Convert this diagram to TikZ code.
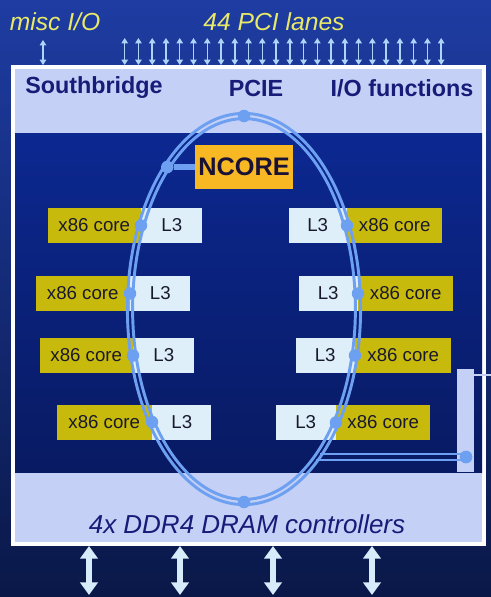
\documentclass[tikz,border=0pt]{standalone}
\usepackage{fontspec}
\setmainfont{Liberation Sans}
\usetikzlibrary{arrows.meta}
\definecolor{bgtop}{RGB}{30,60,162}
\definecolor{bgbot}{RGB}{10,24,72}
\definecolor{darktop}{RGB}{12,40,145}
\definecolor{darkbot}{RGB}{8,26,98}
\definecolor{lav}{RGB}{196,208,245}
\definecolor{navytext}{RGB}{22,28,120}
\definecolor{yelltext}{RGB}{232,232,105}
\definecolor{coreyel}{RGB}{200,186,12}
\definecolor{lthree}{RGB}{222,239,250}
\definecolor{ncorec}{RGB}{248,184,36}
\definecolor{ringc}{RGB}{110,160,242}
\definecolor{arrowc}{RGB}{175,212,248}
\definecolor{bigarrow}{RGB}{215,236,250}
\definecolor{boxtext}{RGB}{25,25,45}
\tikzset{
  corebox/.style={fill=coreyel, minimum height=35*0.75pt, inner sep=0pt, text=boxtext, font=\fontsize{14}{16}\selectfont},
  ltbox/.style={fill=lthree, minimum height=35*0.75pt, inner sep=0pt, text=boxtext, font=\fontsize{14}{16}\selectfont},
  dotnode/.style={circle, fill=ringc, inner sep=0pt, minimum size=12.5*0.75pt},
  ringline/.style={draw=ringc, line width=2.2pt},
  linkline/.style={draw=ringc, line width=4pt},
  pciarrow/.style={draw=arrowc, line width=1.1pt, {Triangle[width=4.8pt,length=4pt]}-{Triangle[width=4.8pt,length=4pt]}},
  memarrow/.style={draw=bigarrow, line width=4.5pt, {Triangle[width=13pt,length=9.5pt]}-{Triangle[width=13pt,length=9.5pt]}},
  bandtext/.style={text=navytext, font=\fontsize{17.5}{20}\selectfont\bfseries},
  toplabel/.style={text=yelltext, font=\fontsize{18.5}{21}\selectfont\itshape}
}
\begin{document}
\begin{tikzpicture}[x=0.75pt,y=-0.75pt]
\useasboundingbox (0,0) rectangle (491,597);
% background
\shade[top color=bgtop, bottom color=bgbot] (0,0) rectangle (491,597);
% chip outline
\fill[white] (11,65) rectangle (486,546);
\fill[lav] (15,69) rectangle (482,542);
\shade[top color=darktop, bottom color=darkbot] (15,133) rectangle (482,472);
% top labels
\node[toplabel] (misc) at (55,22) {misc I/O};
\node[toplabel] (pci) at (274,22) {44 PCI lanes};
% band labels
\node[bandtext] (sb) at (94,88) {Southbridge};
\node[bandtext] (pcie) at (256,88) {PCIE};
\node[bandtext] (iof) at (402,88) {I/O functions};
\node[text=navytext, font=\fontsize{19.5}{22}\selectfont\itshape] (ddr) at (247,524) {4x DDR4 DRAM controllers};
% junction coordinates on the ring
\coordinate (jL1) at (141,225.5);
\coordinate (jL2) at (130,293.5);
\coordinate (jL3) at (133,355.5);
\coordinate (jL4) at (152,422);
\coordinate (jR1) at (347,225.5);
\coordinate (jR2) at (358,293.5);
\coordinate (jR3) at (355,355.5);
\coordinate (jR4) at (336,422.5);
% left cores
\node[corebox, anchor=east, minimum width=93*0.75pt] (cL1) at (jL1) {x86 core};
\node[ltbox, anchor=west, minimum width=61*0.75pt] (lL1) at (jL1) {L3};
\node[corebox, anchor=east, minimum width=94*0.75pt] (cL2) at (jL2) {x86 core};
\node[ltbox, anchor=west, minimum width=60*0.75pt] (lL2) at (jL2) {L3};
\node[corebox, anchor=east, minimum width=93*0.75pt] (cL3) at (jL3) {x86 core};
\node[ltbox, anchor=west, minimum width=61*0.75pt] (lL3) at (jL3) {L3};
\node[corebox, anchor=east, minimum width=95*0.75pt] (cL4) at (jL4) {x86 core};
\node[ltbox, anchor=west, minimum width=59*0.75pt] (lL4) at (jL4) {L3};
% right cores
\node[ltbox, anchor=east, minimum width=58*0.75pt] (lR1) at (jR1) {L3};
\node[corebox, anchor=west, minimum width=95*0.75pt] (cR1) at (jR1) {x86 core};
\node[ltbox, anchor=east, minimum width=59*0.75pt] (lR2) at (jR2) {L3};
\node[corebox, anchor=west, minimum width=95*0.75pt] (cR2) at (jR2) {x86 core};
\node[ltbox, anchor=east, minimum width=59*0.75pt] (lR3) at (jR3) {L3};
\node[corebox, anchor=west, minimum width=96*0.75pt] (cR3) at (jR3) {x86 core};
\node[ltbox, anchor=east, minimum width=60*0.75pt] (lR4) at (jR4) {L3};
\node[corebox, anchor=west, minimum width=94*0.75pt] (cR4) at (jR4) {x86 core};
% NCORE
\node[fill=ncorec, minimum width=98*0.75pt, minimum height=44*0.75pt, inner sep=0pt, text={rgb,255:red,26;green,18;blue,54}, font=\fontsize{19}{22}\selectfont\bfseries] (ncore) at (244,167) {NCORE};
% right I/O bar
\node[fill=lav, minimum width=17*0.75pt, minimum height=103*0.75pt, inner sep=0pt, anchor=north west] (bar) at (457,369) {};
\coordinate (bartop) at (466,375);
\coordinate (ext) at (491,375);
\draw[draw=lav, line width=1.3pt] (bartop) -- (ext);
% ring
\draw[ringline] (244,309) ellipse [x radius=116.6, y radius=195.6];
\draw[ringline] (244,309) ellipse [x radius=111.4, y radius=190.4];
% dots
\node[dotnode] (dTop) at (244,116) {};
\node[dotnode] (dBot) at (244,502) {};
\node[dotnode] (dNc) at (167.3,167) {};
\node[dotnode] (dBar) at (466,457) {};
\foreach \j in {L1,L2,L3,L4,R1,R2,R3,R4} {\node[dotnode] (d\j) at (j\j) {};}
% NCORE link
\draw[linkline] (dNc) -- (ncore.west);
% bar link (double line)
\coordinate (h1) at (320,454);
\coordinate (h2) at (316,460);
\draw[ringline] (h1) -- (h1 -| dBar);
\draw[ringline] (h2) -- (h2 -| dBar);
\node[dotnode] at (dBar) {};
% top arrows
\coordinate (mA) at (43,40);
\coordinate (mB) at (43,65);
\draw[pciarrow] (mA) -- (mB);
\foreach \i in {0,...,23} {
  \coordinate (pA\i) at (124.7+\i*13.76,38);
  \coordinate (pB\i) at (124.7+\i*13.76,65);
  \draw[pciarrow] (pA\i) -- (pB\i);
}
% memory arrows
\foreach \x [count=\k] in {89,180,273,372} {
  \coordinate (qA\k) at (\x,546);
  \coordinate (qB\k) at (\x,595);
  \draw[memarrow] (qA\k) -- (qB\k);
}
\end{tikzpicture}
\end{document}
